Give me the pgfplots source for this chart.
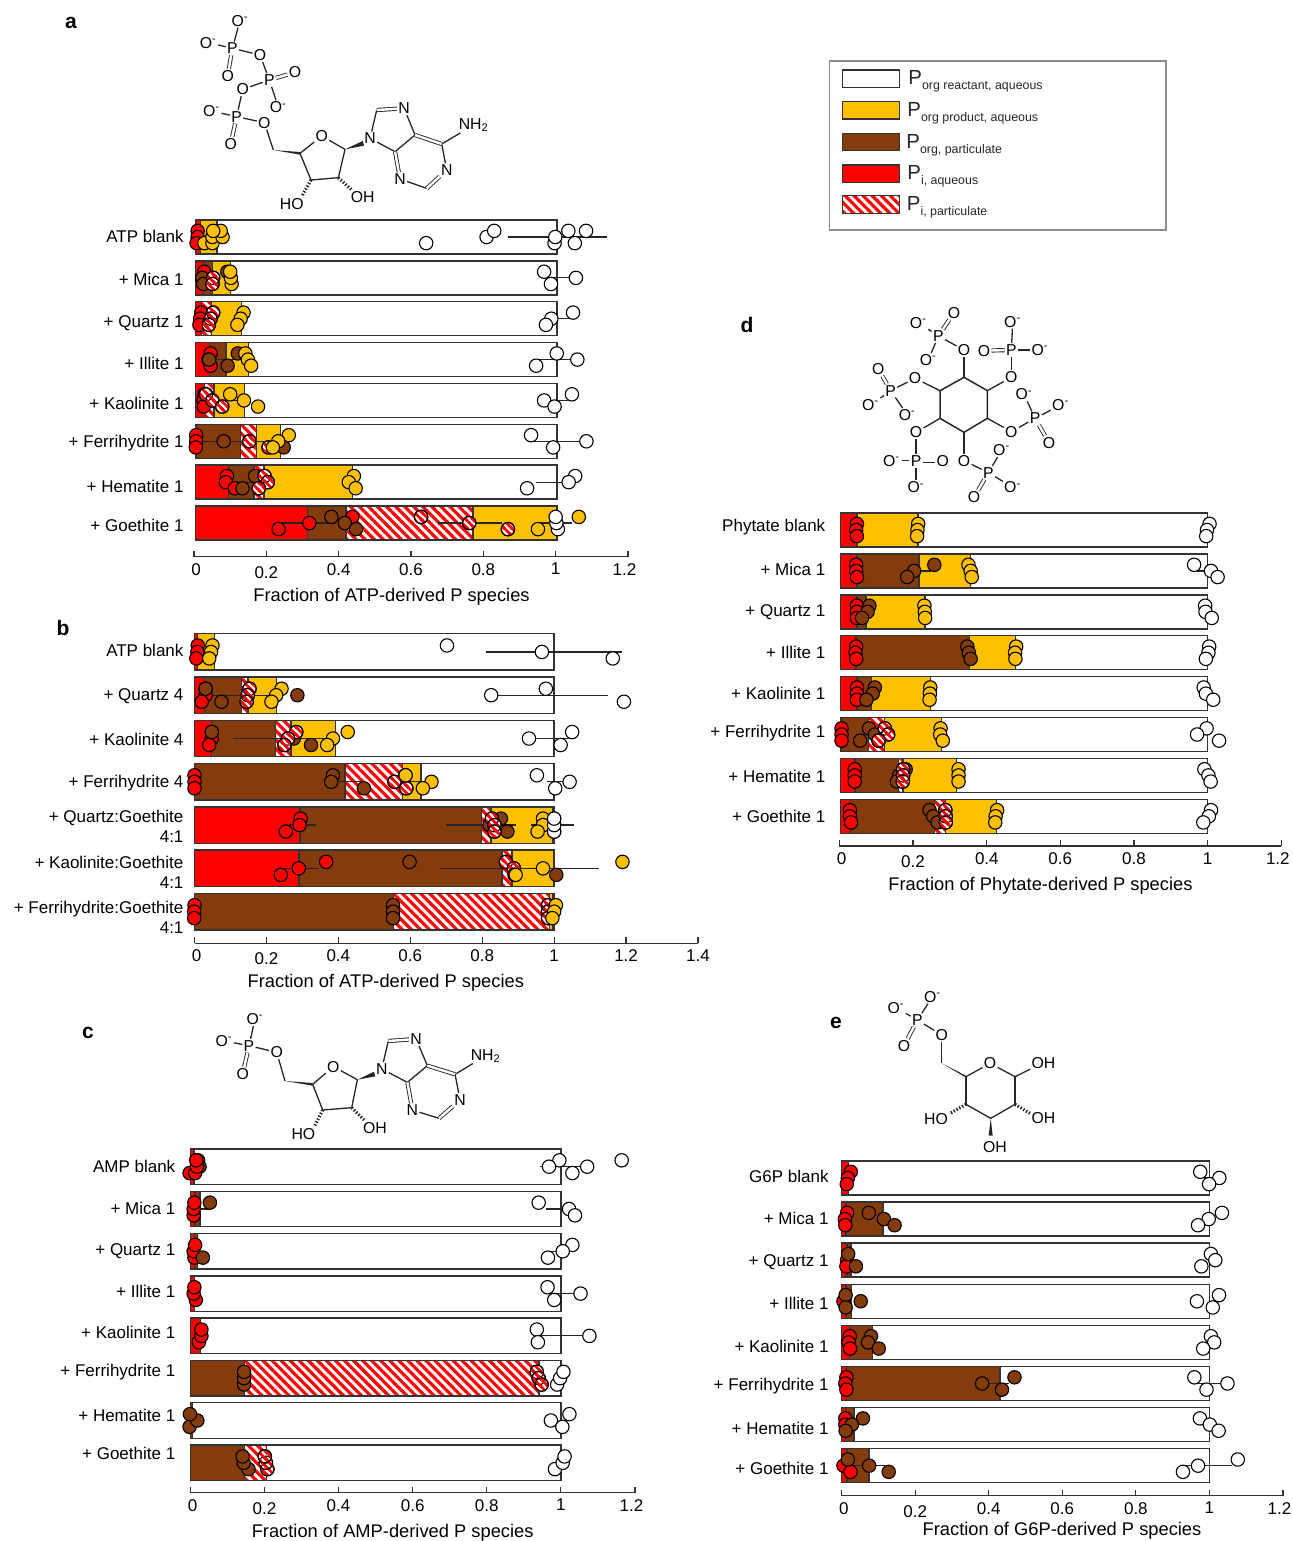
\documentclass[border=0pt]{standalone}
\usepackage{fontspec}
\setmainfont{Liberation Sans}
\usepackage{pgfplots}
\usepackage{pgfplotstable}
\pgfplotsset{compat=1.18}
\usetikzlibrary{patterns.meta}

\definecolor{pred}{HTML}{FF0000}
\definecolor{pbrown}{HTML}{843C0C}
\definecolor{pyellow}{HTML}{FFC000}

% stripes for the hatched circles
\pgfdeclarepatternformonly{stripes}{\pgfqpoint{-1pt}{-1pt}}{\pgfqpoint{4.7pt}{4.7pt}}{\pgfqpoint{3.7pt}{3.7pt}}{
  \pgfsetlinewidth{1.3pt}
  \pgfpathmoveto{\pgfqpoint{-1pt}{4.7pt}}\pgfpathlineto{\pgfqpoint{4.7pt}{-1pt}}
  \pgfpathmoveto{\pgfqpoint{-1pt}{1pt}}\pgfpathlineto{\pgfqpoint{1pt}{-1pt}}
  \pgfpathmoveto{\pgfqpoint{2.7pt}{4.7pt}}\pgfpathlineto{\pgfqpoint{4.7pt}{2.7pt}}
  \pgfusepath{stroke}
}
\pgfdeclareplotmark{hatchcirc}{
  \pgfsetfillpattern{stripes}{pred}
  \pgfpathcircle{\pgfpointorigin}{\pgfplotmarksize}
  \pgfusepath{fill,stroke}
}

% segment sizes of the stacked bars, one table per panel
\pgfplotstableread{
row red brown hatch yellow white
0 .014 0    0    .046 .940
1 .022 .025 0    .050 .903
2 .017 0    .028 .082 .873
3 .039 .045 0    .063 .853
4 .025 0    .026 .085 .864
5 .002 .122 .044 .067 .765
6 .091 .071 .028 .244 .566
7 .310 .106 .351 .233 0
}\taba
\pgfplotstableread{
row red brown hatch yellow white
0 .009 0    0    .046 .945
1 .027 .103 .019 .079 .772
2 .048 .178 .042 .124 .608
3 0    .418 .160 .052 .370
4 .293 .505 .026 .171 .005
5 .291 .564 .028 .116 .001
6 0    .554 .433 .010 .003
}\tabb
\pgfplotstableread{
row red brown hatch yellow white
0 .010 0    0    0 .990
1 .013 .013 0    0 .974
2 .011 .009 0    0 .980
3 .012 0    0    0 .988
4 .028 0    0    0 .972
5 0    .147 .794 0 .059
6 0    .006 0    0 .994
7 0    .147 .058 0 .795
}\tabc
\pgfplotstableread{
row red brown hatch yellow white
0 .044 0    0    .166 .790
1 .044 .169 0    .140 .647
2 .044 .025 0    .161 .770
3 .042 .309 0    .125 .524
4 .044 .040 0    .160 .756
5 .002 .074 .043 .155 .726
6 .039 .119 .012 .146 .684
7 .027 .228 .030 .140 .575
}\tabd
\pgfplotstableread{
row red brown hatch yellow white
0 .019 0    0 0 .981
1 .012 .100 0 0 .888
2 .015 .010 0 0 .975
3 .012 .015 0 0 .973
4 .021 .063 0 0 .916
5 .013 .418 0 0 .569
6 .011 .023 0 0 .966
7 .015 .059 0 0 .926
}\tabe

\newcommand{\lab}{\fontsize{8.5}{10}\selectfont}
\tikzset{
  hatchfill/.style={pattern={Lines[angle=-45,distance=3.2pt,line width=1.6pt]},pattern color=pred},
  atom/.style={font=\fontsize{7.9}{8}\selectfont,inner sep=.5pt},
  bond/.style={line width=.65pt,black!85},
  dbl/.style={double,double distance=1.2pt,line width=.45pt,black!85},
}
\pgfplotsset{
  panel/.style={
    scale only axis,clip=false,xbar stacked,reverse stacked plots=false,
    axis x line*=bottom,axis y line*=left,
    y axis line style={draw=none},x axis line style={-,black!80,line width=.6pt},
    y dir=reverse,ymin=-.6,
    ytick style={draw=none},xtick style={black!80,line width=.6pt},
    tick align=inside,major tick length=3pt,
    tick label style={font=\lab},
    yticklabel style={align=right},
    xticklabel style={yshift=.3pt},
    xlabel style={font=\fontsize{9.15}{11}\selectfont,anchor=north},
  },
  barseg/.style={draw=black!80,line width=.7pt,forget plot},
  err/.style={sharp plot,stack plots=false,forget plot,mark=none,black!85,line width=.6pt,unbounded coords=jump},
  pt/.style={sharp plot,only marks,stack plots=false,forget plot,mark=*,mark size=3.35pt,
    black,mark options={draw=black,line width=.55pt,fill=#1}},
  pth/.style={sharp plot,only marks,stack plots=false,forget plot,mark=hatchcirc,mark size=3.35pt,
    black,mark options={draw=black,line width=.55pt}},
}
\newcommand{\stackbars}[1]{
  \addplot[barseg,fill=pred] table[x=red,y=row] {#1};
  \addplot[barseg,fill=pbrown] table[x=brown,y=row] {#1};
  \addplot[barseg,hatchfill] table[x=hatch,y=row] {#1};
  \addplot[barseg,fill=pyellow] table[x=yellow,y=row] {#1};
  \addplot[barseg,fill=white] table[x=white,y=row] {#1};
}
\newcommand{\hatchpts}[1]{
  \addplot[pt=white] coordinates {#1};
  \addplot[pth] coordinates {#1};
}
\newcommand{\lowz}{\raisebox{-1.5pt}[\height]{0.2}}
\newcommand{\firstl}{\hspace*{2.2pt}0}
\newcommand{\lastl}{\hspace*{-3.5pt}1.2}
\newcommand{\leg}[4]{% y of swatch, x of text, fill style, subscript
  \draw[black!80,line width=.6pt,#3] (421.35pt,{(1541-#1-8.7)*.5pt}) rectangle (449.65pt,{(1541-#1+8.7)*.5pt});
  \node[anchor=west,inner sep=0pt,font=\fontsize{10.2}{10}\selectfont,black!85] at ({(#2-1)*.5pt},{(1541-#1-3)*.5pt})
    {P\raisebox{-2.5pt}{\fontsize{6.2}{7}\selectfont #4}};
}

\begin{document}
\begin{tikzpicture}
\path[use as bounding box] (0,0) rectangle (646pt,770.5pt);

% ---------------- panel a
\begin{axis}[panel,at={(97pt,492.15pt)},anchor=south west,width=217pt,height=172.1pt,
  bar width=17pt,xmin=-.004,xmax=1.196,ymax=7.824,
  xtick={-.004,.196,.396,.596,.796,.996,1.196},xticklabels={\firstl,\lowz,0.4,0.6,0.8,1,\lastl},
  ytick={-.007,1.028,2.105,3.084,4.063,5.042,6.11,7.048},
  yticklabels={ATP blank,+ Mica 1,+ Quartz 1,+ Illite 1,+ Kaolinite 1,+ Ferrihydrite 1,+ Hematite 1,+ Goethite 1},
  yticklabel style={xshift=-1.7pt},
  xlabel={Fraction of ATP-derived P species},xlabel style={at={(rel axis cs:.455,0)},yshift=-12pt}]
\stackbars{\taba}
\addplot[err] coordinates {(.863,0)(1.137,0)(nan,nan)(.968,1)(1.042,1)(nan,nan)(.99,2)(1.04,2)(nan,nan)
  (.947,3)(1.05,3)(nan,nan)(.022,3)(.122,3)(nan,nan)(.97,4)(1.04,4)(nan,nan)(.096,4)(.154,4)(nan,nan)
  (.937,5)(1.08,5)(nan,nan)(.017,5)(.218,5)(nan,nan)(.942,6)(1.04,6)(nan,nan)(.085,6)(.175,6)(nan,nan)
  (.952,7)(1.042,7)(nan,nan)(.672,7)(.847,7)(nan,nan)(.24,7)(.387,7)};
\addplot[pt=pred] coordinates {(.006,-.15)(.006,0)(.003,.15)(.024,.85)(.019,1)(.016,1.85)(.013,2)(.011,2.15)
  (.042,2.85)(.036,3)(.042,3.15)(.025,3.85)(.022,4)(.023,4.15)(.002,4.85)(.002,5)(.001,5.15)
  (.087,5.85)(.084,6)(.109,6.15)(.434,6.85)(.315,7)(.23,7.15)};
\addplot[pt=pbrown] coordinates {(.088,.85)(.019,1)(.022,1.15)(.117,2.85)(.038,3)(.089,3.15)(.078,5)(.244,5.15)
  (.165,5.85)(.13,6.15)(.376,6.85)(.413,7)(.444,7.15)};
\hatchpts{(.049,1)(.047,1.15)(.049,1.85)(.042,2)(.037,2.15)(.029,3.85)(.047,4)(.074,4.15)(.149,5)(.202,5.15)
  (.191,5.85)(.2,6)(.175,6.15)(.624,6.85)(.757,7)(.864,7.15)}
\addplot[pt=pyellow] coordinates {(.025,.15)(.047,.15)(.047,0)(.075,0)(.07,-.15)(.049,-.15)(.1,1.15)(.098,1)(.096,.85)
  (.133,1.85)(.125,2)(.116,2.15)(.138,2.85)(.145,3)(.154,3.15)(.096,3.85)(.134,4)(.173,4.15)
  (.258,4.85)(.229,5)(.214,5.15)(.438,5.85)(.424,6)(.443,6.15)(1.06,6.85)(.947,7.15)};
\addplot[pt=white] coordinates {(.638,.15)(.805,0)(.826,-.15)(.993,.15)(1.049,.15)(1.031,-.15)(1.08,-.15)(.995,0)
  (.964,.85)(1.052,1)(.983,1.15)(1.044,1.85)(.984,2)(.969,2.15)(.999,2.85)(1.056,3)(.942,3.15)
  (1.041,3.85)(.964,4)(.993,4.15)(.928,4.85)(1.081,5)(.989,5.15)(1.05,5.85)(1.032,6)(.917,6.15)
  (1.002,7.15)(.998,7)(.996,6.85)};
\end{axis}

% ---------------- panel b
\begin{axis}[panel,at={(97.25pt,298.85pt)},anchor=south west,width=251.75pt,height=158.65pt,
  bar width=18.2pt,xmin=0,xmax=1.4,ymax=6.731,
  xtick={0,.2,.4,.6,.8,1,1.2,1.4},xticklabels={\firstl,\lowz,0.4,0.6,0.8,1,1.2,1.4},
  ytick={-.03,1.03,2.01,3.02,4.04,5.09,6.12},
  yticklabels={ATP blank,+ Quartz 4,+ Kaolinite 4,+ Ferrihydrite 4,{+ Quartz:Goethite\\4:1},{+ Kaolinite:Goethite\\4:1},{+ Ferrihydrite:Goethite\\4:1}},
  yticklabel style={xshift=-2pt},
  xlabel={Fraction of ATP-derived P species},xlabel style={at={(rel axis cs:.38,0)},yshift=-12pt}]
\stackbars{\tabb}
\addplot[err] coordinates {(.811,0)(1.188,0)(nan,nan)(.837,1)(1.149,1)(nan,nan)(.167,1)(.224,1)(nan,nan)(.046,1)(.148,1)(nan,nan)
  (.95,2)(1.04,2)(nan,nan)(.34,2)(.38,2)(nan,nan)(.106,2)(.345,2)(nan,nan)(.98,3)(1.04,3)(nan,nan)(.58,3)(.65,3)(nan,nan)(.38,3)(.47,3)(nan,nan)
  (.263,4)(.339,4)(nan,nan)(.70,4)(.894,4)(nan,nan)(.935,4)(1.056,4)(nan,nan)(.237,5)(.342,5)(nan,nan)(.684,5)(1.124,5)};
\addplot[pt=pred] coordinates {(.009,-.15)(.008,0)(.005,.15)(.031,.85)(.031,1)(.02,1.15)(.048,1.85)(.048,2)(.041,2.15)
  (0,2.85)(0,3)(0,3.15)(.295,3.85)(.292,4)(.254,4.15)(.366,4.85)(.29,5)(.24,5.15)(0,5.85)(-.001,6)(-.001,6.15)};
\addplot[pt=pbrown] coordinates {(.031,.85)(.286,1)(.075,1.15)(.048,1.85)(.276,2)(.324,2.15)(.385,2.85)(.38,3)(.471,3.15)
  (.852,3.85)(.82,4)(.87,4.15)(.598,4.85)(1.006,5.15)(.552,5.85)(.552,6)(.552,6.15)};
\hatchpts{(.153,.85)(.148,1)(.145,1.15)(.283,1.85)(.26,2)(.25,2.15)(.586,2.85)(.556,3)(.589,3.15)(.827,3.85)(.834,4)(.834,4.15)
  (.866,4.85)(.888,5)(.89,5.15)(.983,5.85)(.983,6)(.983,6.15)}
\addplot[pt=white] coordinates {(1,4.15)(1,4)(1,3.85)};
\addplot[pt=pyellow] coordinates {(.05,-.15)(.046,0)(.041,.15)(.242,.85)(.227,1)(.214,1.15)(.426,1.85)(.385,2)(.369,2.15)
  (.587,2.85)(.659,3)(.635,3.15)(.969,3.85)(.969,4)(.954,4.15)(1.19,4.85)(.969,5)(.893,5.15)(1.005,5.85)(1,6)(.995,6.15)};
\addplot[pt=white] coordinates {(.702,-.15)(.966,0)(1.163,.15)(.977,.85)(.825,1)(1.194,1.15)(1.05,1.85)(.93,2)(1.018,2.15)
  (.952,2.85)(1.043,3)(1.003,3.15)(1,4.15)(1,4)(1,3.85)};
\end{axis}

% ---------------- panel c
\begin{axis}[panel,at={(95.15pt,24.15pt)},anchor=south west,width=222.35pt,height=175.7pt,
  bar width=17.75pt,xmin=0,xmax=1.2,ymax=7.707,
  xtick={0,.2,.4,.6,.8,1,1.2},xticklabels={\firstl,\lowz,0.4,0.6,0.8,1,\lastl},
  ytick={-.017,.976,1.99,2.96,3.92,4.85,5.87,6.79},
  yticklabels={AMP blank,+ Mica 1,+ Quartz 1,+ Illite 1,+ Kaolinite 1,+ Ferrihydrite 1,+ Hematite 1,+ Goethite 1},
  yticklabel style={xshift=-4pt},
  xlabel={Fraction of AMP-derived P species},xlabel style={at={(rel axis cs:.455,0)},yshift=-12.2pt}]
\stackbars{\tabc}
\addplot[err] coordinates {(.943,0)(1.055,0)(nan,nan)(.96,1)(1.02,1)(nan,nan)(.02,1)(.05,1)(nan,nan)(.965,2)(1.005,2)(nan,nan)
  (.98,3)(1.05,3)(nan,nan)(.94,4)(1.077,4)};
\addplot[pt=pbrown] coordinates {(.021,-.15)(.025,0)};
\addplot[pt=pred] coordinates {(-.002,.15)(.013,.15)(.018,0)(.016,-.15)(.009,1.15)(.009,1)(.011,.85)(.011,2.15)(.009,2)(.013,1.85)
  (.015,3.15)(.009,3)(.011,2.85)(.023,4.15)(.03,4)(.03,3.85)};
\addplot[pt=pbrown] coordinates {(.053,.85)(.034,2.15)(.145,5.15)(.145,5)(.145,4.85)(-.002,6.15)(.019,6)(-.001,5.85)(.157,7.15)(.144,7)(.141,6.85)};
\hatchpts{(.935,4.85)(.94,5)(.948,5.15)(.208,7.15)(.204,7)(.201,6.85)}
\addplot[pt=white] coordinates {(.996,-.15)(.968,0)(1.071,0)(1.164,-.15)(1.031,.15)(.94,.85)(1.022,1)(1.038,1.15)
  (1.031,1.85)(1.005,2)(.965,2.15)(.964,2.85)(1.053,3)(.982,3.15)(.935,3.85)(1.077,4)(.938,4.15)
  (.99,5.15)(.998,5)(1.007,4.85)(1.023,5.85)(.973,6)(1.004,6.15)(.984,7.15)(1.005,7)(1.01,6.85)};
\end{axis}

% ---------------- panel d
\begin{axis}[panel,at={(419.65pt,347.5pt)},anchor=south west,width=221pt,height=170.25pt,
  bar width=17pt,xmin=-.004,xmax=1.2006,ymax=7.726,
  xtick={-.004,.197,.398,.598,.799,1,1.2006},xticklabels={\firstl,\lowz,0.4,0.6,0.8,1,\lastl},
  ytick={-.073,.954,2.02,3,4,4.97,6.03,7},
  yticklabels={Phytate blank,+ Mica 1,+ Quartz 1,+ Illite 1,+ Kaolinite 1,+ Ferrihydrite 1,+ Hematite 1,+ Goethite 1},
  yticklabel style={xshift=-3.5pt},
  xlabel={Fraction of Phytate-derived P species},xlabel style={at={(rel axis cs:.455,0)},yshift=-12.2pt}]
\stackbars{\tabd}
\addplot[err] coordinates {(.2,1)(.245,1)(nan,nan)(.97,1)(1,1)};
\addplot[pt=pred] coordinates {(.044,-.15)(.042,0)(.044,.15)(.042,.85)(.042,1)(.044,1.15)(.044,1.85)(.044,2)(.044,2.15)
  (.042,2.85)(.04,3)(.042,3.15)(.044,3.85)(.044,4)(.044,4.15)(.002,4.85)(.002,5)(.002,5.15)
  (.038,5.85)(.038,6)(.038,6.15)(.025,6.85)(.025,7)(.028,7.15)};
\addplot[pt=pbrown] coordinates {(.255,.85)(.2,1)(.181,1.15)(.078,1.85)(.073,2)(.058,2.15)(.345,2.85)(.349,3)(.354,3.15)
  (.093,3.85)(.087,4)(.07,4.15)(.077,4.85)(.093,5)(.053,5.15)(.177,5.85)(.159,6)(.153,6.15)(.242,6.85)(.252,7)(.264,7.15)};
\hatchpts{(.12,4.85)(.129,5)(.103,5.15)(.17,5.85)(.17,6)(.169,6.15)(.285,6.85)(.286,7)(.286,7.15)}
\addplot[pt=pyellow] coordinates {(.211,-.15)(.209,0)(.208,.15)(.348,.85)(.354,1)(.357,1.15)(.228,1.85)(.229,2)(.23,2.15)
  (.478,2.85)(.475,3)(.476,3.15)(.244,3.85)(.243,4)(.242,4.15)(.272,4.85)(.271,5)(.278,5.15)
  (.321,5.85)(.321,6)(.321,6.15)(.426,6.85)(.422,7)(.421,7.15)};
\addplot[pt=white] coordinates {(1.005,-.15)(.998,0)(.996,.15)(.963,.85)(1.009,1)(1.027,1.15)(.993,1.85)(.994,2)(1.011,2.15)
  (1.004,2.85)(1.002,3)(.995,3.15)(.989,3.85)(.995,4)(1.015,4.15)(.997,4.85)(.971,5)(1.031,5.15)
  (.991,5.85)(1.002,6)(1.008,6.15)(1.009,6.85)(1.003,7)(.988,7.15)};
\end{axis}

% ---------------- panel e
\begin{axis}[panel,at={(420.8pt,22.65pt)},anchor=south west,width=220.7pt,height=171.2pt,
  bar width=17pt,xmin=0,xmax=1.2,ymax=7.73,
  xtick={0,.2,.4,.6,.8,1,1.2},xticklabels={\firstl,\lowz,0.4,0.6,0.8,1,\lastl},
  ytick={-.03,.98,2.06,3.04,4.09,5.07,6.1,7.06},
  yticklabels={G6P blank,+ Mica 1,+ Quartz 1,+ Illite 1,+ Kaolinite 1,+ Ferrihydrite 1,+ Hematite 1,+ Goethite 1},
  yticklabel style={xshift=-3pt},
  xlabel={Fraction of G6P-derived P species},xlabel style={at={(rel axis cs:.4993,0)},yshift=-9.8pt}]
\stackbars{\tabe}
\addplot[err] coordinates {(.385,5)(.455,5)(nan,nan)(.965,5)(1.049,5)(nan,nan)(.935,7)(1.06,7)(nan,nan)(.017,7)(.118,7)(nan,nan)(.985,0)(1.02,0)};
\addplot[pt=pred] coordinates {(.025,-.15)(.017,0)(.014,.15)(.015,.85)(.009,1)(.01,1.15)(.015,2)(.013,2.15)(.005,3)
  (.022,3.85)(.019,4)(.023,4.15)(.013,4.85)(.01,5)(.013,5.15)(.01,5.85)(.01,6)(.005,7)(.024,7.15)};
\addplot[pt=pbrown] coordinates {(.074,.85)(.115,1)(.144,1.15)(.018,1.85)(.039,2.15)(.011,2.85)(.052,3)(.011,3.15)
  (.08,3.85)(.072,4)(.101,4.15)(.47,4.85)(.382,5)(.436,5.15)(.058,5.85)(.028,6)(.011,6.15)(.017,6.85)(.075,7)(.128,7.15)};
\addplot[pt=white] coordinates {(.975,-.15)(1.027,0)(.999,.15)(1.034,.85)(.998,1)(.969,1.15)(1.004,1.85)(1.016,2)(.978,2.15)
  (1.026,2.85)(.966,3)(1.009,3.15)(1.004,3.85)(1.013,4)(.983,4.15)(.959,4.85)(1.049,5)(.992,5.15)
  (.974,5.85)(1.001,6)(1.025,6.15)(1.077,6.85)(.969,7)(.928,7.15)};
\end{axis}

% panel letters
\foreach \t/\x/\y in {a/71/23,b/63/628,c/88/1033,d/747/325,e/836/1023}
  \node[font=\fontsize{10.5}{11}\selectfont\bfseries] at (\x*.5pt,{(1541-\y)*.5pt}) {\t};

% legend
\draw[black!45,line width=.7pt] (414.65pt,{(1541-61)*.5pt}) rectangle (583pt,{(1541-230)*.5pt});
\leg{78.7}{909}{fill=white}{org reactant, aqueous}
\leg{110.3}{908}{fill=pyellow}{org product, aqueous}
\leg{142}{907}{fill=pbrown}{org, particulate}
\leg{173.7}{908}{fill=pred}{i, aqueous}
\leg{204.5}{907.5}{hatchfill}{i, particulate}

% ATP structure (coordinates in third-pixels from its corner)
\begin{scope}[shift={(90pt,770.5pt)},x=.1667pt,y=-.1667pt]
\node[atom] (a1) at (180,62) {O\textsuperscript{-}};
\node[atom] (a2) at (85,128) {O\textsuperscript{-}};
\node[atom] (P1) at (157,145) {P};
\node[atom] (a3) at (240,165) {O};
\node[atom] (a4) at (143,228) {O};
\node[atom] (P2) at (268,240) {P};
\node[atom] (a5) at (345,217) {O};
\node[atom] (a6) at (188,268) {O};
\node[atom] (a7) at (295,322) {O\textsuperscript{-}};
\node[atom] (P3) at (170,350) {P};
\node[atom] (a8) at (95,333) {O\textsuperscript{-}};
\node[atom] (a9) at (253,368) {O};
\node[atom] (a10) at (152,432) {O};
\node[atom] (r0) at (425,408) {O};
\node[atom] (n9) at (570,415) {N};
\node[atom] (n7) at (672,325) {N};
\node[atom] (n3) at (660,537) {N};
\node[atom] (n1) at (800,510) {N};
\node[atom,anchor=west] (nh) at (832,375) {NH\textsubscript{2}};
\node[atom] (ho) at (335,612) {HO};
\node[atom] (oh) at (548,592) {OH};
\coordinate (c5) at (280,450);\coordinate (c4) at (360,460);\coordinate (c1) at (495,448);
\coordinate (c2) at (475,533);\coordinate (c3) at (393,540);\coordinate (c8) at (590,330);
\coordinate (c55) at (705,405);\coordinate (c44) at (645,455);\coordinate (c22) at (740,565);\coordinate (c6) at (785,432);
\foreach \a/\b in {a1/P1,a2/P1,P1/a3,a3/P2,P2/a6,a6/P3,P2/a7,a8/P3,P3/a9,a9/c5,c4/r0,r0/c1,c1/c2,c2/c3,c3/c4,n9/c8,n7/c55,c55/c44,c44/n9,n1/c6,c6/nh,n3/c22}
  \draw[bond] (\a)--(\b);
\foreach \a/\b in {P1/a4,P2/a5,P3/a10,c8/n7,c55/c6,c44/n3,n1/c22}
  \draw[dbl] (\a)--(\b);
\fill[black!85] (c5)--(360,456)--(360,464)--cycle;
\fill[black!85] (c1)--(548,423)--(552,437)--cycle;
\draw[black!85,line width=1.6pt,dash pattern=on .7pt off .9pt] (c3)--(365,590);
\draw[black!85,line width=1.6pt,dash pattern=on .7pt off .9pt] (c2)--(515,570);
\end{scope}

% AMP structure
\begin{scope}[shift={(100pt,268pt)},x=.1667pt,y=-.1667pt]
\node[atom] (a1) at (165,42) {O\textsuperscript{-}};
\node[atom] (a2) at (72,108) {O\textsuperscript{-}};
\node[atom] (P1) at (147,122) {P};
\node[atom] (a3) at (230,142) {O};
\node[atom] (a4) at (128,207) {O};
\node[atom] (r0) at (400,185) {O};
\node[atom] (n9) at (545,192) {N};
\node[atom] (n7) at (648,102) {N};
\node[atom] (n3) at (637,315) {N};
\node[atom] (n1) at (780,285) {N};
\node[atom,anchor=west] (nh) at (808,152) {NH\textsubscript{2}};
\node[atom] (ho) at (310,388) {HO};
\node[atom] (oh) at (525,368) {OH};
\coordinate (c5) at (255,228);\coordinate (c4) at (338,238);\coordinate (c1) at (472,224);
\coordinate (c2) at (455,308);\coordinate (c3) at (368,315);\coordinate (c8) at (565,108);
\coordinate (c55) at (682,182);\coordinate (c44) at (622,232);\coordinate (c22) at (717,340);\coordinate (c6) at (765,208);
\foreach \a/\b in {a1/P1,a2/P1,P1/a3,a3/c5,c4/r0,r0/c1,c1/c2,c2/c3,c3/c4,n9/c8,n7/c55,c55/c44,c44/n9,n1/c6,c6/nh,n3/c22}
  \draw[bond] (\a)--(\b);
\foreach \a/\b in {P1/a4,c8/n7,c55/c6,c44/n3,n1/c22}
  \draw[dbl] (\a)--(\b);
\fill[black!85] (c5)--(338,234)--(338,242)--cycle;
\fill[black!85] (c1)--(522,200)--(526,214)--cycle;
\draw[black!85,line width=1.6pt,dash pattern=on .7pt off .9pt] (c3)--(343,365);
\draw[black!85,line width=1.6pt,dash pattern=on .7pt off .9pt] (c2)--(492,345);
\end{scope}

% phytate structure
\begin{scope}[shift={(425pt,620.5pt)},x=.1667pt,y=-.1667pt]
\coordinate (k1) at (342,232);\coordinate (k2) at (412,272);\coordinate (k3) at (412,355);
\coordinate (k4) at (342,397);\coordinate (k5) at (270,355);\coordinate (k6) at (270,272);
\draw[bond,line width=.75pt] (k1)--(k2)--(k3)--(k4)--(k5)--(k6)--cycle;
\foreach \n/\t/\x/\y in {b1/O\textsuperscript{-}/205/68,b2/O/312/38,b3/P/265/108,b4/O\textsuperscript{-}/235/180,b5/O/342/150,
  c1/O\textsuperscript{-}/488/65,c2/O/402/152,c3/P/484/150,c4/O\textsuperscript{-}/570/150,c5/O/484/232,
  d1/O/85/207,d2/P/122/272,d3/O/195/235,d4/O\textsuperscript{-}/62/315,d5/O\textsuperscript{-}/172/345,
  e1/O\textsuperscript{-}/522/283,e2/O\textsuperscript{-}/632/315,e3/P/555/355,e4/O/597/428,e5/O/484/395,
  f1/O/198/397,f2/P/198/482,f3/O\textsuperscript{-}/125/482,f4/O/278/482,f5/O\textsuperscript{-}/198/562,
  g1/O/342/482,g2/O\textsuperscript{-}/455/450,g3/P/415/518,g4/O\textsuperscript{-}/488/562,g5/O/372/592}
  \node[atom] (\n) at (\x,\y) {\t};
\foreach \a/\b in {b1/b3,b4/b3,b3/b5,b5/k1,c1/c3,c3/c4,c3/c5,c5/k2,d2/d3,d3/k6,d4/d2,d5/d2,e1/e3,e2/e3,e3/e5,e5/k3,
  f1/f2,f1/k5,f3/f2,f5/f2,g1/k4,g1/g3,g2/g3,g4/g3}
  \draw[bond] (\a)--(\b);
\foreach \a/\b in {b2/b3,c2/c3,d1/d2,e3/e4,f2/f4,g3/g5}
  \draw[dbl] (\a)--(\b);
\end{scope}

% G6P structure
\begin{scope}[shift={(440pt,278pt)},x=.1667pt,y=-.1667pt]
\foreach \n/\t/\x/\y in {h1/O\textsuperscript{-}/158/35,h2/O\textsuperscript{-}/48/68,h3/P/112/105,h4/O/72/182,h5/O/185/150,
  h6/O/330/235,h7/OH/490/233,h8/HO/168/402,h9/OH/490/400,h10/OH/345/485}
  \node[atom] (\n) at (\x,\y) {\t};
\coordinate (m1) at (185,235);\coordinate (m2) at (258,275);\coordinate (m3) at (258,358);
\coordinate (m4) at (332,400);\coordinate (m5) at (405,358);\coordinate (m6) at (405,275);
\foreach \a/\b in {h1/h3,h2/h3,h3/h5,h5/m1,m2/h6,h6/m6,m6/h7,m6/m5,m5/m4,m4/m3,m3/m2}
  \draw[bond] (\a)--(\b);
\draw[dbl] (h3)--(h4);
\fill[black!85] (m1)--(256,271)--(260,279)--cycle;
\fill[black!85] (m4)--(326,452)--(338,452)--cycle;
\draw[black!85,line width=1.6pt,dash pattern=on .7pt off .9pt] (m3)--(210,385);
\draw[black!85,line width=1.6pt,dash pattern=on .7pt off .9pt] (m5)--(450,385);
\end{scope}
\end{tikzpicture}
\end{document}
